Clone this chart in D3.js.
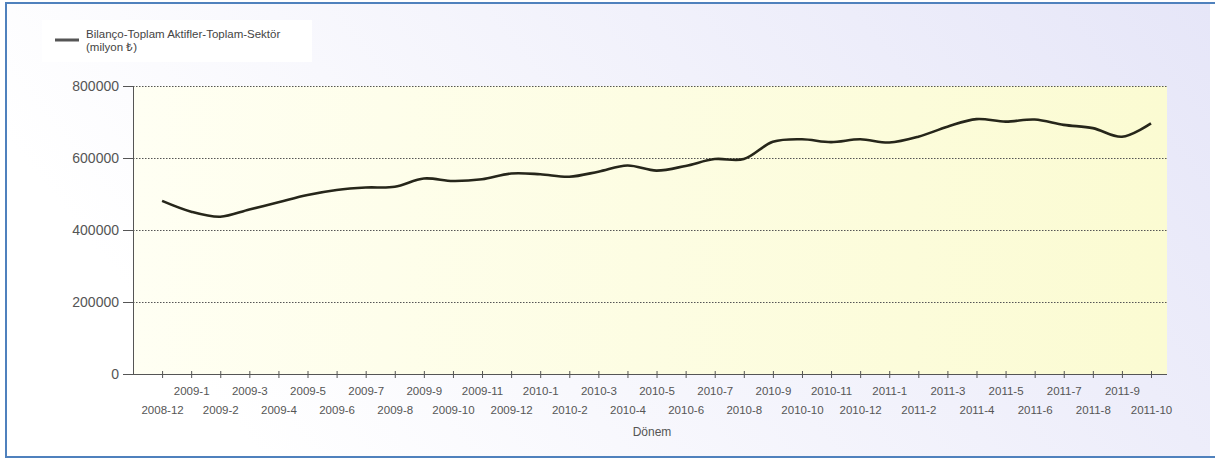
<!DOCTYPE html>
<html><head><meta charset="utf-8">
<script src="https://cdn.jsdelivr.net/npm/d3@7"></script>
<style>html,body{margin:0;padding:0;background:#fff;}svg{display:block;font-family:"Liberation Sans",Arial,sans-serif;}</style>
</head><body>
<svg id="c" width="1215" height="460"></svg>
<script>
const categories = ["2008-12","2009-1","2009-2","2009-3","2009-4","2009-5","2009-6","2009-7","2009-8","2009-9","2009-10","2009-11","2009-12",
"2010-1","2010-2","2010-3","2010-4","2010-5","2010-6","2010-7","2010-8","2010-9","2010-10","2010-11","2010-12",
"2011-1","2011-2","2011-3","2011-4","2011-5","2011-6","2011-7","2011-8","2011-9","2011-10"];
const values = [481000,451000,437000,457000,477000,497000,511000,518000,520000,543000,536000,541000,557000,
555000,548000,562000,579000,565000,578000,597000,597000,645000,652000,644000,652000,
643000,659000,687000,708000,701000,707000,692000,683000,659000,696000];
const yTicks = [0,200000,400000,600000,800000];
const seriesName = ["Bilanço-Toplam Aktifler-Toplam-Sektör","(milyon ₺)"];
const xTitle = "Dönem";

const svg = d3.select("#c");
const defs = svg.append("defs");
const bg = defs.append("linearGradient").attr("id","bg").attr("x1","0").attr("y1","0.3").attr("x2","1").attr("y2","0");
bg.append("stop").attr("offset","0").attr("stop-color","#ffffff");
bg.append("stop").attr("offset","1").attr("stop-color","#e6e6f8");
const pg = defs.append("linearGradient").attr("id","pg").attr("x1","0").attr("y1","0").attr("x2","1").attr("y2","0");
pg.append("stop").attr("offset","0").attr("stop-color","#fffff3");
pg.append("stop").attr("offset","1").attr("stop-color","#fbfbd2");

svg.append("rect").attr("x",0).attr("y",0).attr("width",1215).attr("height",460).attr("fill","#fff");
svg.append("rect").attr("x",7).attr("y",4).attr("width",1203).attr("height",452).attr("fill","url(#bg)");
svg.append("rect").attr("x",6).attr("y",3).attr("width",1215).attr("height",454)
  .attr("fill","none").attr("stroke","#4f81bd").attr("stroke-width",2);

const L = 133, R = 1167, T = 86, B = 374;
const x = d3.scaleLinear().domain([-1, 34.55]).range([L, R]);
const y = d3.scaleLinear().domain([0, 800000]).range([B, T]);

svg.append("rect").attr("x",L).attr("y",T).attr("width",R-L).attr("height",B-T).attr("fill","url(#pg)");

svg.append("g").selectAll("line").data(yTicks.filter(d=>d>0)).join("line")
  .attr("x1",L).attr("x2",R).attr("y1",d=>y(d)+0.5).attr("y2",d=>y(d)+0.5)
  .attr("stroke","#555").attr("stroke-width",1.2).attr("stroke-dasharray","1.5,1.5");

const ya = svg.append("g").attr("transform",`translate(${L},0)`)
  .call(d3.axisLeft(y).tickValues(yTicks).tickFormat(d3.format("d")).tickSize(10).tickPadding(4));
ya.select(".domain").attr("stroke","#555");
ya.selectAll(".tick line").attr("stroke","#555");
ya.selectAll("text").attr("fill","#555").style("font-size","14px").style("font-family","Liberation Sans, Arial, sans-serif");

const idx = d3.range(categories.length);
const xa = svg.append("g").attr("transform",`translate(0,${B})`)
  .call(d3.axisBottom(x).tickValues(idx).tickFormat(i=>categories[i]).tickSize(4).tickSizeOuter(0));
xa.select(".domain").attr("stroke","#555").attr("d",`M${L},0.5H${R}`);
xa.selectAll(".tick line").attr("stroke","#555").attr("y1",-3);
xa.selectAll("text").attr("fill","#555").style("font-size","11.5px").style("font-family","Liberation Sans, Arial, sans-serif")
  .attr("dy",null).attr("y",(d)=> d%2===1 ? 21 : 40);

svg.append("text").attr("x",652).attr("y",436).attr("text-anchor","middle")
  .attr("fill","#555").style("font-size","12px").text(xTitle);

const line = d3.line().x((d,i)=>x(i)).y(d=>y(d)).curve(d3.curveCatmullRom.alpha(0.5));
svg.append("path").datum(values).attr("d",line).attr("fill","none")
  .attr("stroke","#26261a").attr("stroke-width",2.6).attr("stroke-linejoin","round");

const lg = svg.append("g");
lg.append("rect").attr("x",42).attr("y",20).attr("width",270).attr("height",42).attr("fill","#fff");
lg.append("line").attr("x1",55).attr("x2",79).attr("y1",40).attr("y2",40).attr("stroke","#555").attr("stroke-width",3);
lg.selectAll("text.lt").data(seriesName).join("text").attr("class","lt")
  .attr("x",86).attr("y",(d,i)=>38+i*13).attr("fill","#444").style("font-size","11.5px").text(d=>d);
</script>
</body></html>
